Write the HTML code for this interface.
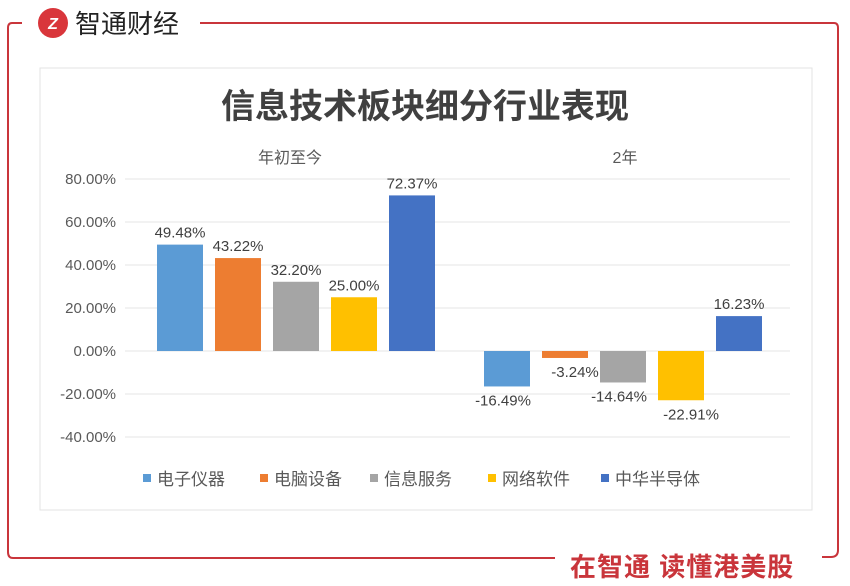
<!DOCTYPE html>
<html><head><meta charset="utf-8"><style>
body{margin:0;width:850px;height:581px;background:#fff;overflow:hidden;font-family:"Liberation Sans","Noto Sans CJK SC",sans-serif}
</style></head><body>
<svg width="850" height="581" xmlns="http://www.w3.org/2000/svg">
<g stroke="#c9353b" stroke-width="2" fill="none">
<path d="M22,23 L12,23 Q8,23 8,28 L8,552 Q8,558 13,558 L555,558"/>
<path d="M200,23 L834,23 Q838,23 838,28 L838,550 Q838,557 831,557 L822,557"/>
</g>
<g>
<circle cx="53" cy="23" r="15" fill="#d9363b"/>
<text x="53" y="29" text-anchor="middle" font-size="16" font-weight="bold" fill="#fff" font-style="italic">Z</text>
<text x="75" y="33" font-size="26" fill="#222">智通财经</text>
</g>
<text x="570" y="576" font-size="26" font-weight="bold" fill="#c9353b" letter-spacing="1">在智通 读懂港美股</text>
<rect x="40" y="68" width="772" height="442" fill="#fff" stroke="#e3e3e3"/>
<text x="425" y="118" text-anchor="middle" font-size="34" font-weight="bold" fill="#404040">信息技术板块细分行业表现</text>
<text x="290" y="163" text-anchor="middle" font-size="16" fill="#595959">年初至今</text>
<text x="625" y="163" text-anchor="middle" font-size="16" fill="#595959">2年</text>
<g id="grid"></g><g id="bars"></g><g id="legend"></g>
</svg>
<script>
const ticks=[80,60,40,20,0,-20,-40];
const series=["电子仪器","电脑设备","信息服务","网络软件","中华半导体"];
const colors=["#5B9BD5","#ED7D31","#A5A5A5","#FFC000","#4472C4"];
const ytdValues=[49.48,43.22,32.20,25.00,72.37];
const twoYearValues=[-16.49,-3.24,-14.64,-22.91,16.23];
const NS="http://www.w3.org/2000/svg";
function y(v){return 351-v*43/20;}
function mk(t,a,p){const e=document.createElementNS(NS,t);for(const k in a)e.setAttribute(k,a[k]);p.appendChild(e);return e;}
const grid=document.getElementById('grid'),bars=document.getElementById('bars'),leg=document.getElementById('legend');
ticks.forEach(t=>{
 const l=mk('line',{x1:125,x2:790,y1:y(t),y2:y(t),stroke:'#e6e6e6'},grid);
 
 
 const tx=mk('text',{x:116,y:y(t)+5,'text-anchor':'end','font-size':15,fill:'#595959'},grid);
 tx.textContent=t.toFixed(2)+'%';
 
 
});
const groups=[ytdValues,twoYearValues],starts=[180,507];
groups.forEach((vals,g)=>{
 vals.forEach((v,i)=>{
  const cx=starts[g]+i*58,w=46;
  const top=Math.min(y(v),y(0)),h=Math.abs(y(v)-y(0));
  const r=mk('rect',{x:cx-w/2,y:top,width:w,height:Math.max(h,1),fill:colors[i]},bars);
  
  
  const ly=v>=0?y(v)-7:y(v)+19;
  const lx=v>=0?cx:cx+(i%2?10:-4);
  const t=mk('text',{x:lx,y:ly,'text-anchor':'middle','font-size':15,fill:'#404040'},bars);
  t.textContent=v.toFixed(2)+'%';
  
  
 });
});
const lx=[143,260,370,488,601];
series.forEach((s,i)=>{
 const r=mk('rect',{x:lx[i],y:474,width:8,height:8,fill:colors[i]},leg);
 
 
 const t=mk('text',{x:lx[i]+14,y:485,'font-size':17,fill:'#595959'},leg);
 t.textContent=s;
 
 
});
</script>
</body></html>
